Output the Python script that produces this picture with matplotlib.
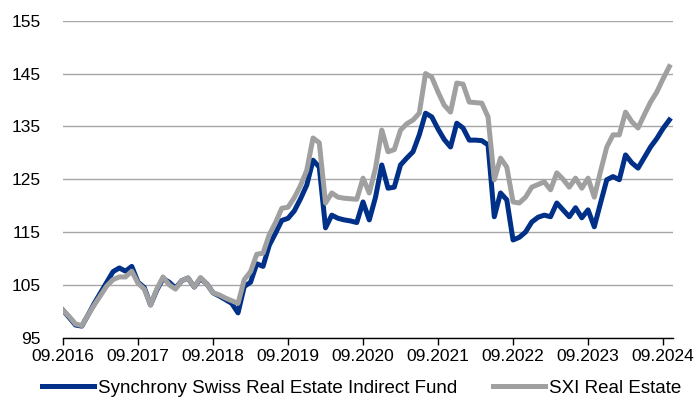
# Synchrony Swiss Real Estate Indirect Fund vs SXI Real Estate (indexed, 09.2016 = 100)

import numpy as np
import pandas as pd
import matplotlib
matplotlib.use("Agg")
import matplotlib.pyplot as plt

plt.rcParams['font.family'] = ['Liberation Sans', 'DejaVu Sans']

# monthly points, 09.2016 .. 10.2024
months = pd.date_range("2016-09-01", periods=98, freq="MS")

fund = [100.2, 98.8, 97.4, 97.2, 99.3, 101.5, 103.5, 105.5, 107.5, 108.2,
        107.6, 108.5, 105.5, 104.5, 101.2, 104.0, 106.2, 105.5, 104.4, 105.8,
        106.3, 104.6, 106.2, 105.2, 103.5, 102.9, 102.2, 101.5, 99.7, 104.7,
        105.5, 109.0, 108.5, 112.5, 114.8, 117.2, 117.6, 119.0, 121.3, 123.9,
        128.6, 127.3, 115.8, 118.2, 117.6, 117.3, 117.1, 116.8, 120.7, 117.3,
        121.6, 127.7, 123.3, 123.5, 127.7, 129.0, 130.2, 133.4, 137.5, 136.8,
        134.5, 132.5, 131.1, 135.6, 134.7, 132.4, 132.4, 132.3, 131.5, 117.9,
        122.4, 121.1, 113.5, 114.0, 115.0, 116.9, 117.8, 118.2, 117.9, 120.5,
        119.2, 117.9, 119.6, 117.7, 119.2, 116.0, 120.5, 124.9, 125.5, 124.9,
        129.6, 128.1, 127.1, 129.1, 131.1, 132.7, 134.6, 136.2]

sxi = [100.2, 99.0, 97.6, 97.3, 99.3, 101.2, 103.0, 104.8, 106.0, 106.5,
       106.5, 107.6, 105.3, 104.2, 101.2, 104.2, 106.5, 105.0, 104.2, 105.8,
       106.3, 104.6, 106.4, 105.2, 103.5, 103.1, 102.5, 102.0, 101.5, 106.0,
       107.5, 110.8, 111.0, 114.5, 116.8, 119.5, 119.7, 121.5, 123.8, 126.7,
       132.8, 131.9, 120.5, 122.4, 121.6, 121.4, 121.3, 121.2, 125.2, 122.4,
       127.1, 134.3, 130.2, 130.6, 134.3, 135.5, 136.2, 137.5, 145.0, 144.3,
       141.5, 139.0, 137.7, 143.2, 143.0, 139.6, 139.5, 139.4, 136.8, 124.9,
       129.0, 127.3, 120.7, 120.5, 121.6, 123.5, 124.0, 124.5, 123.0, 126.2,
       125.0, 123.5, 125.2, 123.3, 125.2, 121.6, 126.5, 131.1, 133.4, 133.4,
       137.7, 135.9, 134.7, 137.2, 139.6, 141.5, 144.0, 146.3]

y_ticks = [95, 105, 115, 125, 135, 145, 155]
x_tick_pos = list(range(0, 98, 12))
x_tick_labels = [months[i].strftime("%m.%Y") for i in x_tick_pos]

fig = plt.figure(figsize=(6.94, 4.0), dpi=100)
ax = fig.add_axes([0.0908, 0.1557, 0.879, 0.7925])

x = np.arange(len(months))
ax.plot(x, fund, color="#003087", lw=3.6, solid_joinstyle="round",
        label="Synchrony Swiss Real Estate Indirect Fund", zorder=3)
ax.plot(x, sxi, color="#A0A0A0", lw=3.6, solid_joinstyle="round",
        label="SXI Real Estate", zorder=4)

ax.set_ylim(95, 155)
ax.set_xlim(0, 97.6)
ax.set_yticks(y_ticks)
ax.set_xticks(x_tick_pos)
ax.set_xticklabels(x_tick_labels)

ax.grid(axis='y', color="#A6A6A6", lw=1.0)
ax.set_axisbelow(True)
for s in ['left', 'right', 'top']:
    ax.spines[s].set_visible(False)
ax.spines['bottom'].set_color("black")
ax.spines['bottom'].set_linewidth(1.0)
ax.spines['bottom'].set_zorder(5)

ax.tick_params(axis='y', length=0, pad=16, labelsize=12.5)
ax.tick_params(axis='x', length=5, width=1.0, direction='out', pad=3, labelsize=12.5)

fig.legend(loc='center', bbox_to_anchor=(0.521, 0.03), ncol=2, frameon=False,
           fontsize=13.5, handlelength=2.8, handletextpad=0.2, columnspacing=1.9)

fig.savefig("out.png", dpi=100)
